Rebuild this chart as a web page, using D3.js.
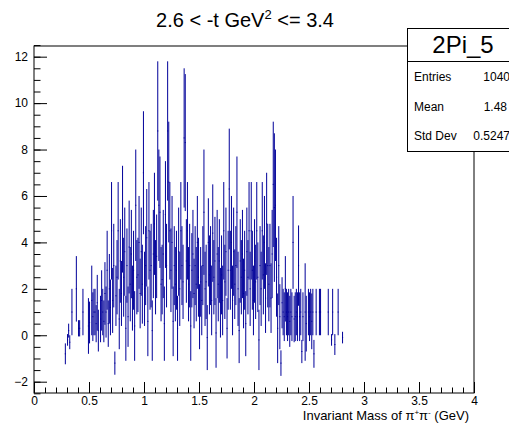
<!DOCTYPE html>
<html lang="en">
<head>
    <meta charset="UTF-8">
    <title>2Pi_5</title>
    <style>
        body { margin: 0; background: #fff; }
        svg { display: block; font-family: "Liberation Sans", Arial, sans-serif; }
    </style>
</head>
<body>
    <script src="https://cdn.jsdelivr.net/npm/d3@7"></script>
    <script>
        // histogram: bins 0.01 wide, first bin starts at 0.27
        var binStart = 0.27,
            binWidth = 0.01;
        // bin contents (null = empty bin, not drawn)
        var counts = [
            null, -0.8, null, -0.2, 0.2, -0.3, null, 1, null, null,
            null, 2, null, 0.3, 0.3, null, null, 1, null, null,
            null, null, 0.4, 0.55, null, 1.5, 0.8, 1, 1, 0.5,
            1.4, 0.2, null, 0.7, 1.5, 1, 0.6, 1.8, 1, 2.8,
            0.5, 2, 1.2, 4.5, 1.5, 3, -1.2, 1.7, 2.5, 4.5,
            0.7, 3.2, 1.8, 5, 2.5, 3.6, 0.3, 3, 0.8, 3.8,
            2.2, 3.5, 1.6, 2.8, 0.4, 5.6, 2.5, 2.6, 4, 1.8,
            3.6, 2.2, 7, 2, 3, 4.2, 0.6, 4.5, 2.8, 3,
            0.2, 3.5, 4.8, 2.5, 3.4, 8.8, 5.6, 5.3, 2.2, 2.4,
            3.5, 0.5, 5.2, 3, 8.8, 6.6, 4.5, 2.8, 4, 0.6,
            3, 2.2, 2.8, 0.3, 3.6, 2, 4.5, 3, 2.3, 8.5,
            8.3, 3.2, 4.5, 2.2, 3, 0.4, 2.8, 3.5, 1.8, 3,
            2.2, 4, 2.5, 0.8, 2.3, 1.5, 3, 5.3, 2, 2.3,
            -0.1, 4, 2.6, 3, 1.5, 4.4, 2.5, 3.2, 0.1, 3.5,
            2.2, 3.2, 1.4, 2.6, 1.5, 4.5, 2.3, 3.6, 0.3, 2.8,
            6.3, 2.8, 4, 1.5, 3.6, 2.2, 3, 5.3, 2, 0.2,
            3.2, 2.5, 3.5, 1.8, 2.8, 0.5, 3.6, 2.5, 4.5, 2,
            4.5, 2.8, 1.5, 3.2, 2.3, 4.5, 2.5, -0.2, 3, 2,
            4.5, 2.6, 4, 1.6, 4.8, 3, 2.2, 3, 1.6, 3.5,
            6.5, 5.5, 5.6, 2.5, 0.3, 3, 0.8, -1.2, 1.4, 1,
            0.8, 2, 1, 0.8, 1, 0.6, 1, 0.8, 4, 0.7,
            0.8, 1, 0.8, 3, 0.8, 1, -0.7, 0.8, null, 1,
            0.5, null, 1, 0.8, 1, 0.6, 1, -0.8, null, 1,
            null, null, 1, 1, null, null, null, null, null, null,
            1, null, null, -0.2, 1, null, -0.4, null, null, 1,
            null, null, null, -0.1
        ];
        // bin errors
        var errors = [
            0, 0.45, 0, 0.25, 0.3, 0.3, 0, 1, 0, 0,
            0, 1.41, 0, 0.35, 0.35, 0, 0, 1, 0, 0,
            0, 0, 1.2, 0.9, 0, 1.5, 1.05, 1, 1, 0.8,
            1.2, 0.9, 0, 1.0, 1.3, 1, 0.9, 1.35, 1.1, 1.7,
            1.0, 1.5, 1.2, 2.1, 1.4, 1.8, 0.5, 1.3, 1.6, 2.1,
            1.3, 1.8, 1.4, 2.3, 1.7, 1.9, 1.4, 1.6, 1.3, 2.0,
            1.6, 1.9, 1.4, 1.7, 1.5, 2.4, 1.6, 1.6, 2, 1.5,
            1.9, 1.7, 2.65, 1.6, 1.7, 2.1, 1.5, 2.1, 1.7, 1.8,
            1.3, 1.9, 2.2, 1.6, 1.8, 3.0, 2.4, 2.4, 1.6, 1.5,
            1.9, 1.6, 2.3, 1.8, 3.0, 2.6, 2.1, 1.8, 2, 1.5,
            1.7, 1.6, 1.7, 1.4, 1.9, 1.6, 2.1, 1.7, 1.6, 3.0,
            2.95, 1.8, 2.1, 1.6, 1.8, 1.5, 1.6, 1.9, 1.5, 1.7,
            1.6, 2, 1.7, 1.4, 1.5, 1.5, 1.7, 2.7, 1.6, 1.6,
            1.4, 1.9, 1.7, 1.7, 1.5, 2.1, 1.6, 1.9, 1.5, 1.9,
            1.6, 1.8, 1.5, 1.7, 1.5, 2.1, 1.6, 1.9, 1.3, 1.7,
            2.6, 1.7, 2, 1.5, 1.9, 1.5, 1.7, 2.4, 1.6, 1.4,
            1.8, 1.6, 1.9, 1.5, 1.7, 1.4, 1.9, 1.6, 2.1, 1.6,
            2.1, 1.7, 1.5, 1.8, 1.6, 2.1, 1.5, 1.3, 1.7, 1.6,
            2.1, 1.7, 2, 1.5, 2.2, 1.8, 1.6, 1.8, 1.5, 1.9,
            2.7, 3.2, 2.4, 1.7, 1.5, 1.7, 1.4, 0.55, 1.1, 1,
            1.05, 1.41, 1, 1.05, 1, 1.1, 1, 1.05, 2, 1.0,
            1.05, 1, 1.05, 1.73, 1.05, 1, 0.5, 1.05, 0, 2.1,
            1.2, 0, 1, 1.05, 1, 1.2, 1, 0.6, 0, 1,
            0, 0, 1, 1, 0, 0, 0, 0, 0, 0,
            1, 0, 0, 0.25, 1, 0, 0.45, 0, 0, 1,
            0, 0, 0, 0.25
        ];
        var xTicks = [0, 0.5, 1, 1.5, 2, 2.5, 3, 3.5, 4],
            yTicks = [-2, 0, 2, 4, 6, 8, 10, 12];
        var statNames = ['Entries', 'Mean', 'Std Dev'],
            statValues = ['1040', '1.48', '0.5247'];

        var width = 509, height = 425,
            frame = {left: 34, right: 474, top: 46, bottom: 393},
            color = '#000099';

        var svg = d3.select('body').append('svg')
            .attr('width', width)
            .attr('height', height);

        var x = d3.scaleLinear().domain([0, 4]).range([frame.left, frame.right]);
        var y = d3.scaleLinear().domain([-2.487, 12.46]).range([frame.bottom, frame.top]);

        var bins = counts.map(function(v, i) {
            return {lo: binStart + i * binWidth, v: v, e: errors[i]};
        }).filter(function(d) { return d.v !== null; });

        svg.append('clipPath').attr('id', 'clip')
            .append('rect')
            .attr('x', frame.left).attr('y', frame.top)
            .attr('width', frame.right - frame.left)
            .attr('height', frame.bottom - frame.top);

        // error bars
        var g = svg.append('g').attr('clip-path', 'url(#clip)')
            .attr('stroke', color).attr('stroke-width', 1);
        g.selectAll('.ev').data(bins).enter().append('line')
            .attr('x1', function(d) { return x(d.lo + binWidth / 2); })
            .attr('x2', function(d) { return x(d.lo + binWidth / 2); })
            .attr('y1', function(d) { return y(d.v - d.e); })
            .attr('y2', function(d) { return y(d.v + d.e); });
        g.selectAll('.eh').data(bins).enter().append('line')
            .attr('x1', function(d) { return x(d.lo); })
            .attr('x2', function(d) { return x(d.lo + binWidth); })
            .attr('y1', function(d) { return y(d.v); })
            .attr('y2', function(d) { return y(d.v); });

        // frame
        svg.append('rect')
            .attr('x', frame.left).attr('y', frame.top)
            .attr('width', frame.right - frame.left)
            .attr('height', frame.bottom - frame.top)
            .attr('fill', 'none').attr('stroke', '#000');

        // axes (ticks pointing inside, like ROOT)
        svg.append('g').attr('transform', 'translate(0,' + frame.bottom + ')')
            .call(d3.axisBottom(x).tickValues(xTicks).tickSize(-11).tickPadding(3.5)
                .tickFormat(d3.format('')));
        svg.append('g').attr('transform', 'translate(0,' + frame.bottom + ')')
            .call(d3.axisBottom(x).tickValues(d3.range(0, 4.01, 0.1)).tickSize(-5.5).tickFormat(''));
        svg.append('g').attr('transform', 'translate(' + frame.left + ',0)')
            .call(d3.axisLeft(y).tickValues(yTicks).tickSize(-13).tickPadding(6));
        svg.append('g').attr('transform', 'translate(' + frame.left + ',0)')
            .call(d3.axisLeft(y).tickValues(d3.range(-2.5, 12.51, 0.5)).tickSize(-6.5).tickFormat(''));
        svg.selectAll('.domain').remove();
        svg.selectAll('.tick text').attr('font-size', 12)
            .attr('font-family', 'Liberation Sans, Arial, sans-serif').attr('fill', '#000');

        // axis title
        var xt = svg.append('text')
            .attr('x', 469).attr('y', 420)
            .attr('text-anchor', 'end')
            .attr('font-size', 13);
        xt.append('tspan').text('Invariant Mass of \u03c0');
        xt.append('tspan').attr('dy', -5).attr('font-size', 8).text('+');
        xt.append('tspan').attr('dy', 5).text('\u03c0');
        xt.append('tspan').attr('dy', -5).attr('font-size', 8).text('-');
        xt.append('tspan').attr('dy', 5).text(' (GeV)');

        // title
        var title = svg.append('text')
            .attr('x', 245).attr('y', 27)
            .attr('text-anchor', 'middle')
            .attr('font-size', 20);
        title.append('tspan').text('2.6 < -t GeV');
        title.append('tspan').attr('dy', -8).attr('font-size', 13).text('2');
        title.append('tspan').attr('dy', 8).text(' <= 3.4');

        // stats box
        var sb = svg.append('g');
        sb.append('rect')
            .attr('x', 407.5).attr('y', 28.5)
            .attr('width', 120).attr('height', 123)
            .attr('fill', '#fff').attr('stroke', '#000');
        sb.append('line')
            .attr('x1', 407.5).attr('x2', 530).attr('y1', 61.5).attr('y2', 61.5)
            .attr('stroke', '#000');
        sb.append('text')
            .attr('x', 463).attr('y', 53)
            .attr('text-anchor', 'middle')
            .attr('font-size', 24)
            .text('2Pi_5');
        sb.selectAll('.sn').data(statNames).enter().append('text')
            .attr('x', 414)
            .attr('y', function(d, i) { return 81 + i * 29.5; })
            .attr('font-size', 12)
            .text(function(d) { return d; });
        sb.selectAll('.sv').data(statValues).enter().append('text')
            .attr('x', function(d, i) { return i === 1 ? 507 : 510; })
            .attr('y', function(d, i) { return 81 + i * 29.5; })
            .attr('text-anchor', 'end')
            .attr('font-size', 12)
            .text(function(d) { return d; });
    </script>
</body>
</html>
